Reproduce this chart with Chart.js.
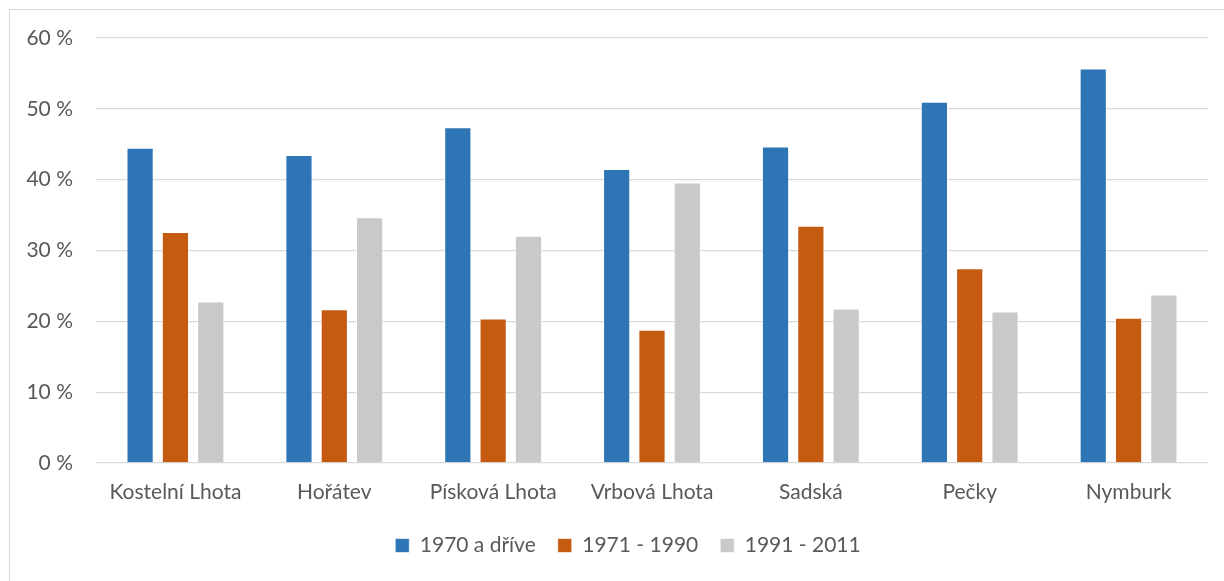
<!DOCTYPE html>
<html>
<head>
<meta charset="utf-8">
<script src="https://cdn.jsdelivr.net/npm/chart.js@4/dist/chart.umd.min.js"></script>
<style>
  html, body { margin: 0; padding: 0; background: #fff; overflow: hidden; }
  #wrap { position: absolute; left: 0; top: 0; width: 1224px; height: 581px; }
  #frame { position: absolute; left: 9px; top: 9px; width: 1400px; height: 800px; border: 1px solid #d9d9d9; }
</style>
</head>
<body>
<div id="frame"></div>
<div id="wrap"><canvas id="chart"></canvas></div>
<script>
// categories (towns)
const towns = ["Kostelní Lhota", "Hořátev", "Písková Lhota", "Vrbová Lhota", "Sadská", "Pečky", "Nymburk"];

// share of houses by construction period, %
const before1970 = [44.5, 43.5, 47.4, 41.5, 44.7, 51.0, 55.7];
const from1971 = [32.6, 21.7, 20.4, 18.8, 33.5, 27.5, 20.5];
const from1991 = [22.8, 34.7, 32.1, 39.6, 21.8, 21.4, 23.8];

const seriesNames = ["1970 a dříve", "1971 - 1990", "1991 - 2011"];
const yTicks = [0, 10, 20, 30, 40, 50, 60];

const TEXT = "#595959";
const FONT = "Lato, 'Open Sans', sans-serif";

function bars(label, data, color) {
  return {
    label,
    data,
    backgroundColor: color,
    borderColor: "rgba(255,255,255,0.6)",
    borderWidth: 1,
    categoryPercentage: 0.667,
    barPercentage: 0.77,
  };
}

// the reference legend sits a bit right of the canvas centre
const shiftLegend = {
  id: "shiftLegend",
  afterLayout(chart) {
    const lg = chart.legend;
    if (lg) { lg.left += 24; lg.right += 24; }
  },
};

new Chart(document.getElementById("chart"), {
  type: "bar",
  data: {
    labels: towns,
    datasets: [
      bars(seriesNames[0], before1970, "#2e75b6"),
      bars(seriesNames[1], from1971, "#c55a11"),
      bars(seriesNames[2], from1991, "#c9c9c9"),
    ],
  },
  plugins: [shiftLegend],
  options: {
    responsive: true,
    maintainAspectRatio: false,
    animation: false,
    layout: { padding: { top: 38, right: 16, bottom: 15, left: 0 } },
    plugins: {
      tooltip: { enabled: false },
      legend: {
        position: "bottom",
        labels: {
          color: TEXT,
          font: { family: FONT, size: 21 },
          boxWidth: 14,
          boxHeight: 14,
          padding: 22,
        },
      },
    },
    scales: {
      x: {
        grid: { display: false },
        border: { display: false },
        ticks: { color: TEXT, font: { family: FONT, size: 21 }, padding: 9, maxRotation: 0 },
        afterFit: (s) => { s.height = 50; },
      },
      y: {
        min: 0,
        max: 60,
        afterBuildTicks: (s) => { s.ticks = yTicks.map((v) => ({ value: v })); },
        grid: { color: "#d9d9d9", lineWidth: 1.3, drawTicks: false },
        border: { display: false },
        ticks: {
          color: TEXT,
          font: { family: FONT, size: 21 },
          padding: 23,
          callback: (v) => v + " %",
        },
        afterFit: (s) => { s.width = 96; },
      },
    },
  },
});
</script>
</body>
</html>
